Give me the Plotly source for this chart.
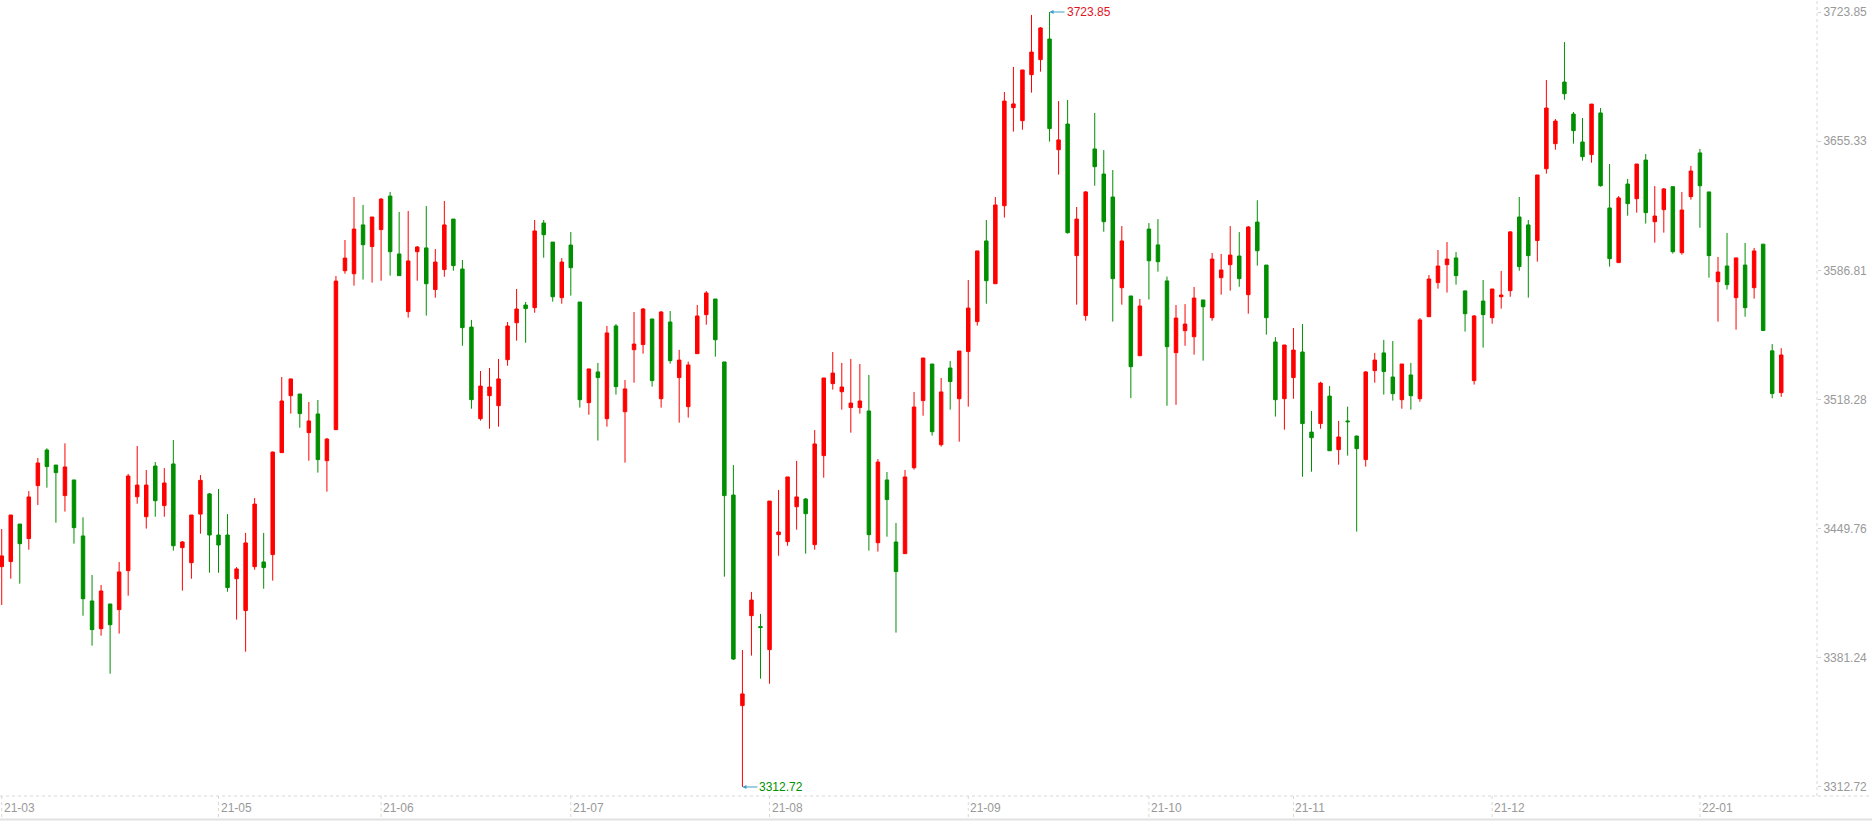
import plotly.graph_objects as go

# daily OHLC, 2021-03-29 .. 2022-01-17 (trading days only)
open_ = [
    3429.6, 3432.3, 3452.2, 3444.5, 3472.6, 3491.5, 3483.5, 3467.3, 3475.6, 3445.9,
    3411.4, 3396.7, 3409.8, 3406.8, 3427.5, 3466.7, 3456.1, 3483.0, 3462.0, 3484.1,
    3439.7, 3431.7, 3457.5, 3468.2, 3446.4, 3446.4, 3423.2, 3406.3, 3429.6, 3432.1,
    3436.0, 3490.1, 3520.3, 3521.2, 3500.7, 3510.6, 3485.8, 3502.3, 3586.6, 3585.0,
    3610.9, 3599.4, 3608.4, 3626.2, 3595.5, 3564.9, 3596.7, 3598.7, 3576.6, 3587.2,
    3614.0, 3587.5, 3556.7, 3508.1, 3520.3, 3515.0, 3539.4, 3559.0, 3568.4, 3567.0,
    3611.9, 3601.8, 3572.3, 3600.2, 3570.0, 3516.6, 3532.9, 3508.1, 3557.3, 3511.8,
    3544.7, 3547.4, 3561.0, 3518.7, 3559.4, 3529.9, 3514.5, 3542.6, 3563.3, 3571.6,
    3538.2, 3467.6, 3355.9, 3403.6, 3397.8, 3385.6, 3446.6, 3442.9, 3461.4, 3465.5,
    3441.3, 3488.5, 3526.7, 3522.4, 3514.0, 3514.0, 3512.2, 3442.3, 3475.6, 3442.7,
    3436.5, 3482.1, 3517.7, 3537.1, 3494.3, 3535.0, 3518.7, 3543.7, 3559.6, 3602.4,
    3579.7, 3621.1, 3673.1, 3666.2, 3690.6, 3698.6, 3709.5, 3650.8, 3664.4, 3594.6,
    3562.8, 3651.2, 3637.9, 3625.7, 3577.6, 3573.2, 3541.5, 3608.7, 3600.3, 3581.2,
    3543.1, 3554.8, 3551.6, 3571.1, 3561.7, 3582.9, 3589.8, 3594.4, 3573.9, 3612.4,
    3589.6, 3548.8, 3518.7, 3529.9, 3543.5, 3501.0, 3505.5, 3520.1, 3491.7, 3506.9,
    3498.9, 3486.4, 3533.6, 3543.0, 3530.2, 3518.2, 3531.3, 3518.7, 3562.2, 3580.3,
    3589.8, 3593.4, 3575.9, 3528.3, 3570.5, 3561.7, 3572.8, 3576.0, 3615.1, 3610.9,
    3602.6, 3640.7, 3654.0, 3686.7, 3669.7, 3654.9, 3648.2, 3670.3, 3619.9, 3590.9,
    3632.6, 3624.8, 3645.3, 3612.6, 3619.0, 3631.2, 3596.2, 3625.9, 3649.1, 3628.4,
    3580.8, 3589.1, 3572.3, 3589.6, 3577.6, 3600.7, 3544.1, 3521.9,
]
high = [
    3449.6, 3457.0, 3452.2, 3469.7, 3487.3, 3492.4, 3483.5, 3495.0, 3475.6, 3455.8,
    3425.2, 3419.9, 3409.8, 3432.1, 3478.8, 3493.6, 3480.9, 3485.1, 3481.9, 3496.8,
    3443.2, 3457.0, 3478.2, 3468.7, 3470.8, 3457.5, 3429.4, 3447.5, 3466.0, 3447.5,
    3490.6, 3530.2, 3529.2, 3521.2, 3517.0, 3518.0, 3497.9, 3583.8, 3602.9, 3625.7,
    3621.5, 3615.1, 3625.2, 3628.4, 3617.8, 3618.3, 3599.7, 3620.9, 3598.1, 3623.6,
    3614.0, 3592.3, 3560.5, 3533.4, 3535.0, 3539.8, 3559.4, 3576.9, 3570.0, 3613.5,
    3613.5, 3601.8, 3593.3, 3607.1, 3570.0, 3534.5, 3537.7, 3557.3, 3558.3, 3528.6,
    3564.7, 3566.8, 3561.0, 3565.2, 3565.2, 3544.6, 3538.4, 3568.4, 3575.8, 3571.6,
    3538.2, 3483.5, 3385.4, 3416.2, 3404.5, 3464.4, 3470.3, 3477.2, 3485.7, 3466.0,
    3502.1, 3529.7, 3543.5, 3537.7, 3539.8, 3537.1, 3531.3, 3486.7, 3479.8, 3452.8,
    3480.9, 3522.3, 3540.3, 3537.1, 3529.7, 3538.7, 3544.0, 3581.7, 3597.1, 3613.5,
    3625.7, 3681.4, 3694.7, 3693.1, 3722.3, 3715.9, 3723.85, 3676.6, 3677.2, 3620.4,
    3628.9, 3670.3, 3650.6, 3640.0, 3610.3, 3573.2, 3571.6, 3611.9, 3614.0, 3583.5,
    3568.4, 3568.9, 3578.0, 3571.1, 3596.0, 3595.5, 3610.3, 3607.1, 3610.3, 3624.0,
    3589.6, 3551.4, 3547.2, 3556.2, 3558.3, 3512.2, 3527.7, 3525.4, 3506.9, 3514.5,
    3499.1, 3533.4, 3543.0, 3549.9, 3549.3, 3537.1, 3537.7, 3561.5, 3584.3, 3597.6,
    3601.8, 3596.5, 3575.9, 3563.1, 3581.7, 3576.9, 3586.5, 3607.7, 3625.7, 3613.5,
    3637.4, 3687.8, 3667.1, 3707.9, 3670.8, 3667.6, 3675.0, 3672.9, 3643.2, 3626.2,
    3635.3, 3643.2, 3648.5, 3631.5, 3630.5, 3631.2, 3628.4, 3642.2, 3651.2, 3628.4,
    3593.9, 3606.6, 3593.4, 3601.3, 3598.7, 3600.7, 3547.7, 3545.5,
]
low = [
    3409.3, 3423.2, 3420.6, 3438.6, 3462.3, 3471.5, 3452.9, 3458.8, 3441.8, 3403.6,
    3387.7, 3393.0, 3372.8, 3394.1, 3414.2, 3463.0, 3449.8, 3456.1, 3456.1, 3438.1,
    3416.9, 3423.2, 3447.1, 3426.4, 3426.4, 3416.3, 3401.5, 3384.5, 3428.0, 3417.9,
    3422.2, 3490.1, 3510.8, 3503.3, 3485.8, 3479.5, 3469.4, 3502.3, 3585.0, 3578.7,
    3581.9, 3580.3, 3581.3, 3584.0, 3584.0, 3561.7, 3581.3, 3562.8, 3572.3, 3583.4,
    3586.6, 3546.8, 3513.4, 3507.1, 3502.8, 3503.9, 3536.2, 3549.5, 3548.4, 3564.3,
    3593.5, 3570.2, 3569.1, 3573.4, 3514.0, 3510.2, 3496.5, 3503.9, 3520.9, 3484.8,
    3527.2, 3542.6, 3525.1, 3514.0, 3537.3, 3506.0, 3508.7, 3542.6, 3558.0, 3541.0,
    3424.3, 3380.1, 3312.72, 3382.4, 3370.2, 3367.5, 3435.4, 3440.7, 3449.2, 3436.5,
    3438.6, 3476.8, 3523.5, 3512.9, 3500.7, 3510.8, 3438.1, 3437.6, 3445.5, 3394.6,
    3436.5, 3481.1, 3509.7, 3499.1, 3493.3, 3512.9, 3495.9, 3514.5, 3557.5, 3569.1,
    3579.7, 3614.8, 3660.4, 3661.4, 3681.1, 3692.2, 3655.1, 3637.6, 3606.3, 3568.6,
    3560.1, 3631.7, 3607.3, 3559.6, 3568.6, 3519.0, 3541.5, 3571.3, 3586.1, 3515.0,
    3515.5, 3546.8, 3542.1, 3538.9, 3560.1, 3573.9, 3576.0, 3578.1, 3563.8, 3589.3,
    3552.7, 3509.2, 3502.3, 3518.7, 3477.3, 3480.0, 3502.8, 3491.1, 3483.7, 3488.5,
    3448.2, 3482.7, 3527.2, 3520.9, 3517.7, 3513.4, 3512.9, 3517.1, 3562.2, 3577.1,
    3575.0, 3579.2, 3554.3, 3526.2, 3545.8, 3558.5, 3566.5, 3572.8, 3586.6, 3572.3,
    3591.4, 3638.1, 3650.8, 3677.3, 3654.0, 3645.0, 3643.9, 3631.2, 3588.8, 3590.9,
    3615.8, 3617.4, 3611.6, 3601.5, 3606.8, 3595.7, 3595.1, 3624.3, 3609.4, 3582.9,
    3559.6, 3576.6, 3555.3, 3562.2, 3571.8, 3554.9, 3518.9, 3519.7,
]
close = [
    3435.3, 3457.0, 3441.8, 3466.6, 3484.6, 3482.7, 3479.5, 3482.5, 3450.3, 3412.6,
    3396.2, 3416.7, 3398.8, 3426.8, 3477.7, 3472.9, 3472.9, 3464.6, 3474.0, 3440.7,
    3442.7, 3457.0, 3475.4, 3446.4, 3441.1, 3418.5, 3428.4, 3442.2, 3462.8, 3429.1,
    3490.4, 3517.5, 3529.2, 3510.8, 3506.9, 3486.4, 3497.3, 3581.1, 3593.3, 3608.7,
    3600.4, 3615.1, 3624.6, 3596.7, 3584.0, 3591.8, 3599.2, 3579.7, 3591.2, 3610.9,
    3589.3, 3556.4, 3518.2, 3525.4, 3524.9, 3529.2, 3557.3, 3566.3, 3566.5, 3607.7,
    3605.7, 3572.8, 3591.2, 3588.2, 3518.2, 3534.5, 3529.9, 3553.6, 3525.1, 3523.9,
    3547.7, 3566.3, 3528.3, 3564.7, 3538.9, 3539.2, 3536.6, 3562.6, 3574.8, 3550.0,
    3467.3, 3380.6, 3362.1, 3411.9, 3397.3, 3464.4, 3448.0, 3477.2, 3466.6, 3457.7,
    3494.7, 3529.7, 3532.3, 3524.9, 3516.4, 3517.5, 3446.6, 3485.1, 3465.2, 3427.0,
    3477.2, 3514.3, 3540.3, 3501.2, 3522.3, 3527.8, 3544.0, 3566.8, 3597.1, 3581.3,
    3621.5, 3676.6, 3675.1, 3693.1, 3702.6, 3715.4, 3662.0, 3656.0, 3606.8, 3614.0,
    3628.4, 3641.8, 3612.6, 3582.4, 3602.4, 3535.7, 3567.9, 3591.9, 3591.4, 3546.3,
    3561.5, 3558.3, 3572.1, 3567.5, 3592.8, 3587.0, 3594.9, 3582.4, 3609.8, 3597.2,
    3561.7, 3518.2, 3547.2, 3544.5, 3505.5, 3498.0, 3527.0, 3491.1, 3498.4, 3506.5,
    3492.2, 3532.9, 3539.2, 3533.1, 3521.4, 3537.1, 3520.3, 3560.5, 3582.2, 3589.1,
    3592.8, 3584.0, 3563.8, 3562.6, 3563.3, 3576.9, 3573.7, 3607.2, 3588.8, 3594.6,
    3637.4, 3672.9, 3666.0, 3680.5, 3660.9, 3647.1, 3675.0, 3631.7, 3593.0, 3625.2,
    3622.2, 3643.2, 3617.4, 3615.6, 3630.0, 3596.7, 3618.8, 3639.5, 3631.7, 3594.6,
    3585.9, 3579.2, 3593.4, 3567.0, 3597.1, 3554.9, 3521.4, 3541.9,
]

# first trading day of each labelled month (index into the series)
month_labels = ["21-03", "21-05", "21-06", "21-07", "21-08", "21-09", "21-10", "21-11", "21-12", "22-01"]
month_start = [0, 24, 42, 63, 85, 107, 127, 143, 165, 188]

y_ticks = [3312.72, 3381.24, 3449.76, 3518.28, 3586.81, 3655.33, 3723.85]

UP = "#ff0000"
DOWN = "#008f00"
GRAY = "#999999"
FONT = "Liberation Sans, Arial, sans-serif"

x = list(range(len(close)))

fig = go.Figure()
fig.add_trace(go.Candlestick(
    x=x, open=open_, high=high, low=low, close=close,
    increasing=dict(line=dict(color=UP, width=1), fillcolor=UP),
    decreasing=dict(line=dict(color=DOWN, width=1), fillcolor=DOWN),
    whiskerwidth=0,
    hoverinfo="skip",
))

i_max = high.index(max(high))
i_min = low.index(min(low))
for i, val, col in [(i_max, max(high), "#e0141e"), (i_min, min(low), "#008f00")]:
    fig.add_annotation(
        x=x[i], y=val, text="%.2f" % val, showarrow=True,
        ax=15, ay=0, xanchor="left", yanchor="middle",
        arrowhead=2, arrowsize=0.8, arrowwidth=1, arrowcolor="#3a9fc5",
        standoff=0, startstandoff=0,
        font=dict(family=FONT, size=12, color=col),
    )

# month labels on the bottom strip, left aligned at the first day
for lab, idx in zip(month_labels, month_start):
    fig.add_annotation(
        x=idx, y=-0.0147, xref="x", yref="paper", text=lab, showarrow=False,
        xanchor="left", yanchor="middle", xshift=0,
        font=dict(family=FONT, size=12, color=GRAY),
    )
    fig.add_shape(type="line", xref="x", yref="paper", x0=idx, x1=idx, y0=0, y1=-0.029,
                  line=dict(color="#d8d8d8", width=1, dash="dot"))

# frame lines
fig.add_shape(type="line", xref="paper", yref="paper", x0=0, x1=1.031, y0=0, y1=0,
              line=dict(color="#d8d8d8", width=1, dash="dot"))
fig.add_shape(type="line", xref="paper", yref="paper", x0=0, x1=1.031, y0=-0.0295, y1=-0.0295,
              line=dict(color="#e2e2e2", width=2))
fig.add_shape(type="line", xref="paper", yref="paper", x0=1, x1=1, y0=0, y1=1,
              line=dict(color="#d8d8d8", width=1, dash="dot"))

fig.update_layout(
    width=1872, height=821,
    margin=dict(l=0, r=55, t=0, b=25),
    paper_bgcolor="white", plot_bgcolor="white",
    showlegend=False,
    boxgap=0.45,
    xaxis=dict(
        range=[-0.19, 200.96], showgrid=False, zeroline=False,
        showticklabels=False, ticks="", showline=False,
        rangeslider=dict(visible=False),
    ),
    yaxis=dict(
        side="right", range=[3307.94, 3730.22],
        tickvals=y_ticks, ticktext=["%.2f" % v for v in y_ticks],
        showgrid=False, zeroline=False, showline=False,
        ticks="outside", ticklen=3, tickcolor="#d0d0d0",
        tickfont=dict(family=FONT, size=12, color=GRAY),
    ),
)

# page body has an 8px default margin; drop it so the figure sits at the corner
fig.write_html("out.html", config={"displayModeBar": False},
               post_script="document.body.style.margin='0';")
